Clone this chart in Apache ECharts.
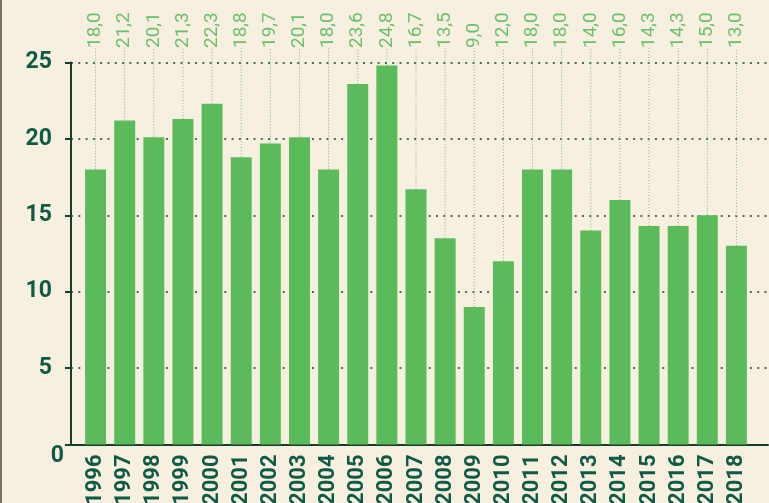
<!DOCTYPE html>
<html>
<head>
<meta charset="utf-8">
<script src="https://cdn.jsdelivr.net/npm/echarts@6/dist/echarts.min.js"></script>
<style>
  html, body { margin: 0; padding: 0; background: #f7f0e1; }
  #chart { width: 769px; height: 503px; }
  .edge { position: absolute; left: 0; top: 0; width: 2px; height: 503px; background: #77726a; }
</style>
</head>
<body>
<div id="chart"></div>
<div class="edge"></div>
<script>
// 年份与数值
const years = ['1996', '1997', '1998', '1999', '2000', '2001', '2002', '2003', '2004', '2005', '2006', '2007',
  '2008', '2009', '2010', '2011', '2012', '2013', '2014', '2015', '2016', '2017', '2018'];
const values = [18.0, 21.2, 20.1, 21.3, 22.3, 18.8, 19.7, 20.1, 18.0, 23.6, 24.8, 16.7,
  13.5, 9.0, 12.0, 18.0, 18.0, 14.0, 16.0, 14.3, 14.3, 15.0, 13.0];
const yMin = 0;
const yMax = 25;
const yStep = 5;

const dark = '#0f5a44';
const axisDark = '#143f30';
const barGreen = '#5bbb5b';
const labelGreen = '#6cc06c';

const chart = echarts.init(document.getElementById('chart'));

chart.setOption({
  backgroundColor: '#f7f0e1',
  animation: false,
  grid: [
    // 坐标轴、网格线
    { left: 71, right: 1, top: 62.5, bottom: 58.5, outerBoundsMode: 'none', containLabel: false },
    // 柱子
    { left: 81, right: 18, top: 62.5, bottom: 58.5, outerBoundsMode: 'none', containLabel: false }
  ],
  xAxis: [
    {
      gridIndex: 0, type: 'value', min: 0, max: 1,
      axisLine: { show: true, lineStyle: { color: axisDark, width: 2 } },
      axisTick: { show: false }, axisLabel: { show: false }, splitLine: { show: false }
    },
    {
      gridIndex: 1, type: 'category', data: years,
      axisLine: { show: false }, axisTick: { show: false },
      axisLabel: {
        rotate: 90, margin: 10, interval: 0,
        color: dark, fontSize: 22, fontWeight: 'bold', fontFamily: 'Roboto'
      }
    }
  ],
  yAxis: [
    {
      gridIndex: 0, type: 'value', min: yMin, max: yMax, interval: yStep,
      axisLine: { show: true, lineStyle: { color: axisDark, width: 2 } },
      axisTick: { show: true, length: 6, lineStyle: { color: axisDark, width: 2 } },
      axisLabel: {
        margin: 7,
        formatter: v => v === 0 ? '{z|0}' : '{n|' + v + '}',
        rich: {
          n: { color: dark, fontSize: 23, fontWeight: 'bold', fontFamily: 'Roboto', padding: [0, 12, 0, 0] },
          z: { color: dark, fontSize: 23, fontWeight: 'bold', fontFamily: 'Roboto', padding: [24, 0, 0, 0] }
        }
      },
      splitLine: { show: true, lineStyle: { color: '#4d6a5a', width: 2, type: [2, 5.3] } }
    },
    {
      gridIndex: 1, type: 'value', min: yMin, max: yMax, show: false
    }
  ],
  series: [
    {
      type: 'bar',
      xAxisIndex: 1,
      yAxisIndex: 1,
      data: values,
      barCategoryGap: '28%',
      itemStyle: { color: barGreen },
      label: {
        show: true,
        position: 'top',
        rotate: 90,
        align: 'left',
        verticalAlign: 'middle',
        color: labelGreen,
        fontSize: 19,
        fontFamily: 'Roboto',
        formatter: p => p.value.toFixed(1).replace('.', ',')
      },
      labelLine: {
        show: true,
        lineStyle: { color: labelGreen, width: 1, type: [1, 2] }
      },
      labelLayout: p => {
        const cx = p.rect.x + p.rect.width / 2;
        return {
          x: cx,
          y: 48,
          labelLinePoints: [[cx, 52], [cx, p.rect.y], [cx, p.rect.y]]
        };
      }
    }
  ]
});

window.addEventListener('resize', () => chart.resize());
</script>
</body>
</html>
